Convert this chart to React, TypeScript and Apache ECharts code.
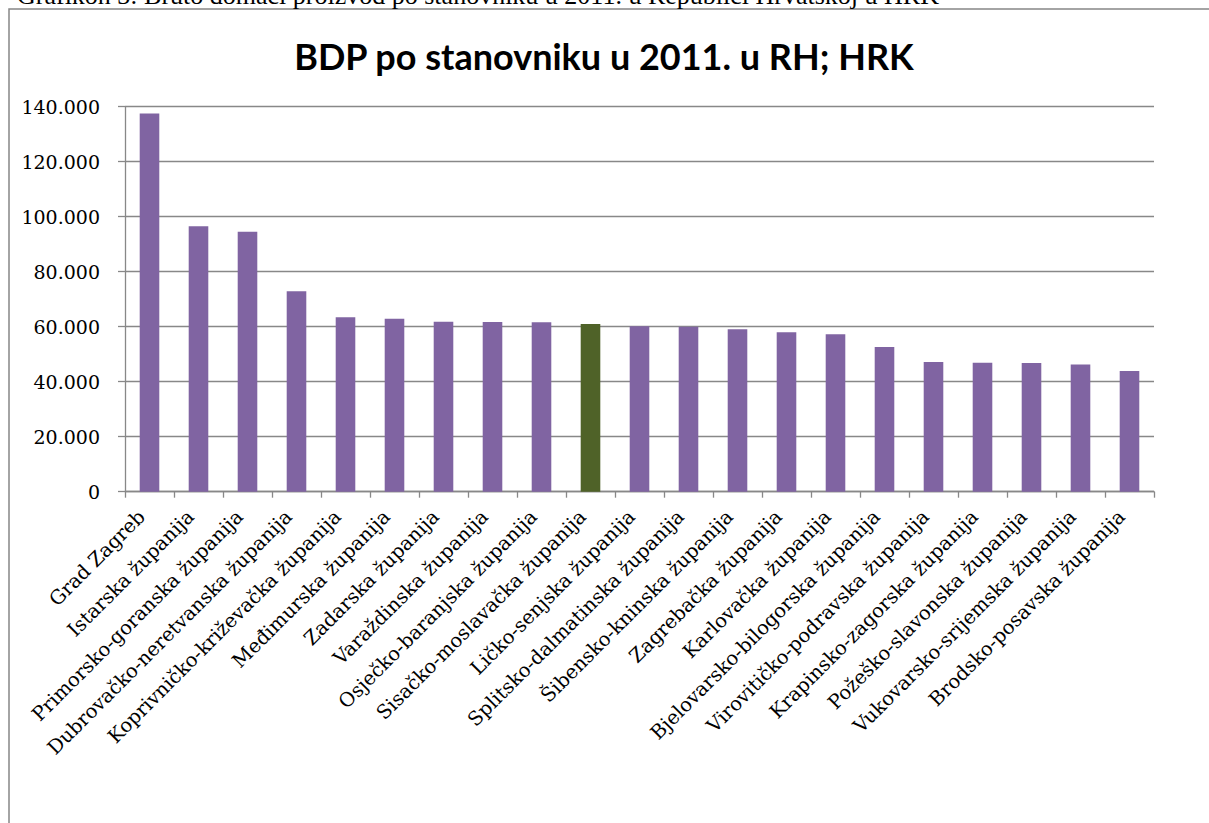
import React, { useEffect, useRef } from "react";
import * as echarts from "echarts";

const titleText = "BDP po stanovniku u 2011. u RH; HRK";
const captionText =
  "Grafikon 3: Bruto domaći proizvod po stanovniku u 2011. u Republici Hrvatskoj u HRK";

const categories = [
  "Grad Zagreb",
  "Istarska županija",
  "Primorsko-goranska županija",
  "Dubrovačko-neretvanska županija",
  "Koprivničko-križevačka županija",
  "Međimurska županija",
  "Zadarska županija",
  "Varaždinska županija",
  "Osječko-baranjska županija",
  "Sisačko-moslavačka županija",
  "Ličko-senjska županija",
  "Splitsko-dalmatinska županija",
  "Šibensko-kninska županija",
  "Zagrebačka županija",
  "Karlovačka županija",
  "Bjelovarsko-bilogorska županija",
  "Virovitičko-podravska županija",
  "Krapinsko-zagorska županija",
  "Požeško-slavonska županija",
  "Vukovarsko-srijemska županija",
  "Brodsko-posavska županija",
];

const values = [
  137500, 96500, 94500, 72900, 63400, 62900, 61800, 61700, 61600, 61000, 60200,
  60000, 59100, 58000, 57300, 52600, 47200, 46900, 46800, 46300, 43900,
];

const highlighted = ["Sisačko-moslavačka županija"];

const yTicks = [0, 20000, 40000, 60000, 80000, 100000, 120000, 140000];

const PURPLE = "#8064A2";
const GREEN = "#4F6228";
const GRID_GRAY = "#888888";

function fmt(v: number): string {
  return String(v).replace(/\B(?=(\d{3})+(?!\d))/g, ".");
}

export default function App() {
  const ref = useRef<HTMLDivElement>(null);

  useEffect(() => {
    if (!ref.current) return;
    const chart = echarts.init(ref.current, null, { renderer: "svg" });
    const option = {
      animation: false,
      backgroundColor: "#ffffff",
      graphic: [
        {
          type: "rect",
          shape: { x: 9, y: 9, width: 1260, height: 900 },
          style: { fill: "none", stroke: "#878787", lineWidth: 1.5 },
          z: -1,
          silent: true,
        },
        {
          type: "text",
          x: 17,
          y: 8.5,
          style: {
            text: captionText,
            font: "26px 'Liberation Serif', serif",
            fill: "#000",
            verticalAlign: "bottom",
            align: "left",
          },
          silent: true,
        },
        {
          type: "text",
          x: 604,
          y: 56,
          style: {
            text: titleText,
            font: "bold 36px Lato, 'Noto Sans', sans-serif",
            fill: "#000",
            align: "center",
            verticalAlign: "middle",
          },
          silent: true,
        },
      ],
      grid: {
        left: 125,
        top: 106.7,
        width: 1029,
        height: 385,
        containLabel: false,
      },
      xAxis: {
        type: "category",
        data: categories,
        boundaryGap: true,
        axisLine: { show: true, lineStyle: { color: GRID_GRAY, width: 1.3 } },
        axisTick: {
          show: true,
          alignWithLabel: false,
          length: 6,
          lineStyle: { color: GRID_GRAY, width: 1.3 },
        },
        axisLabel: {
          interval: 0,
          rotate: 45,
          margin: 14,
          padding: [0, 11, 0, 0],
          color: "#000",
          fontSize: 19.5,
          fontFamily: "'DejaVu Serif', serif",
        },
      },
      yAxis: {
        type: "value",
        min: 0,
        max: 140000,
        interval: 20000,
        axisLine: { show: true, lineStyle: { color: GRID_GRAY, width: 1.3 } },
        axisTick: {
          show: true,
          length: 7,
          lineStyle: { color: GRID_GRAY, width: 1.3 },
        },
        splitLine: { show: true, lineStyle: { color: GRID_GRAY, width: 1.3 } },
        axisLabel: {
          color: "#000",
          fontSize: 19,
          margin: 25,
          fontFamily: "'DejaVu Serif', serif",
          formatter: (v: number) => (yTicks.includes(v) ? fmt(v) : ""),
        },
      },
      series: [
        {
          type: "bar",
          barWidth: "40%",
          data: values.map((v, i) => ({
            value: v,
            itemStyle: {
              color: highlighted.includes(categories[i]) ? GREEN : PURPLE,
            },
          })),
        },
      ],
    };
    chart.setOption(option);
    return () => chart.dispose();
  }, []);

  return (
    <div
      ref={ref}
      style={{ position: "fixed", left: 0, top: 0, width: 1209, height: 823 }}
    />
  );
}
